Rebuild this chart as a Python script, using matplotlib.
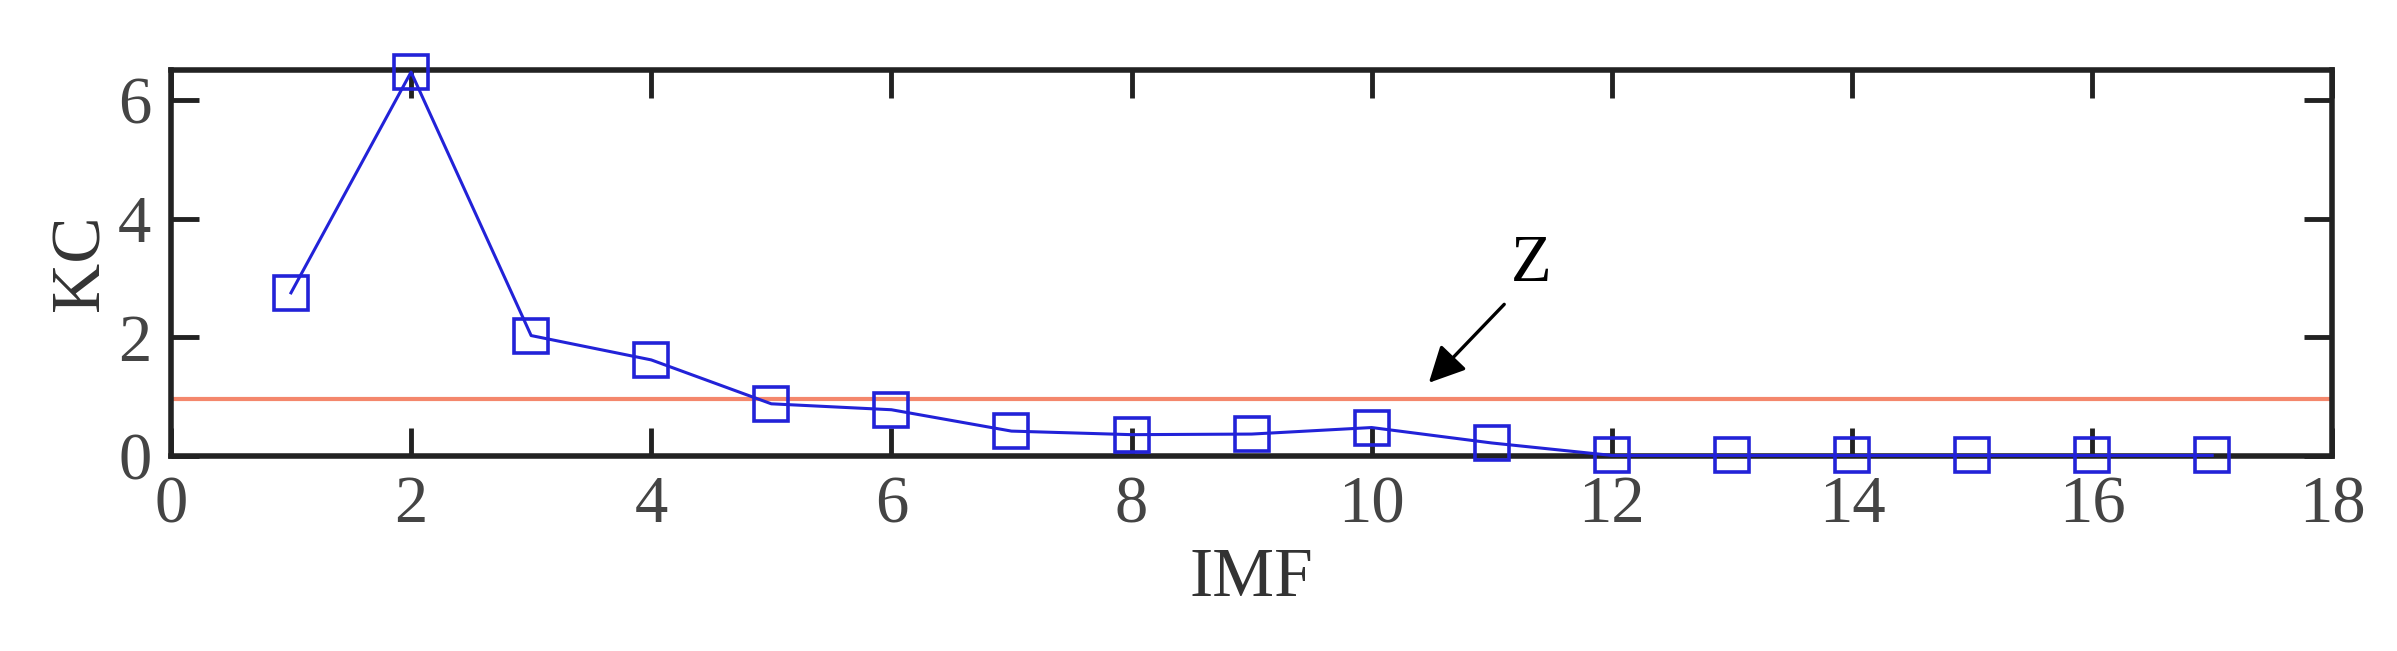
import matplotlib.pyplot as plt
import numpy as np

imf = [1, 2, 3, 4, 5, 6, 7, 8, 9, 10, 11, 12, 13, 14, 15, 16, 17]
kc = [2.75, 6.47, 2.03, 1.62, 0.88, 0.78, 0.42, 0.36, 0.37, 0.48, 0.22,
      0.01, 0.01, 0.01, 0.01, 0.01, 0.01]
threshold = 0.96

plt.rcParams['font.family'] = ['Liberation Serif', 'DejaVu Serif']

fig = plt.figure(figsize=(23.97, 6.51), dpi=100)
ax = fig.add_axes([0.0713, 0.2995, 0.9017, 0.5925])

ax.axhline(threshold, color='#f4876c', lw=3, zorder=1)
ax.plot(imf, kc, color='#2222d8', lw=2.2, marker='s', markersize=24,
        markerfacecolor='none', markeredgecolor='#2222d8', markeredgewidth=2.6,
        clip_on=False, zorder=3)

ax.annotate('', xy=(10.46, 1.2), xytext=(11.12, 2.59),
            arrowprops=dict(arrowstyle='-|>', color='black', lw=2.4,
                            mutation_scale=55))
ax.text(11.33, 3.22, 'Z', fontsize=48, ha='center', va='center')

ax.set_xlim(0, 18)
ax.set_ylim(0, 6.5)
ax.set_xticks(np.arange(0, 19, 2))
ax.set_yticks([0, 2, 4, 6])

ax.tick_params(direction='in', length=20, width=3.5, labelsize=48,
               top=True, right=True, colors='#222222', labelcolor='#444444', pad=14)
for s in ax.spines.values():
    s.set_linewidth(4)
    s.set_color('#222222')

ax.set_xlabel('IMF', fontsize=50, color='#333333', labelpad=8)
ax.set_ylabel('KC', fontsize=50, color='#333333', labelpad=3)

plt.savefig('out.png', dpi=100)
